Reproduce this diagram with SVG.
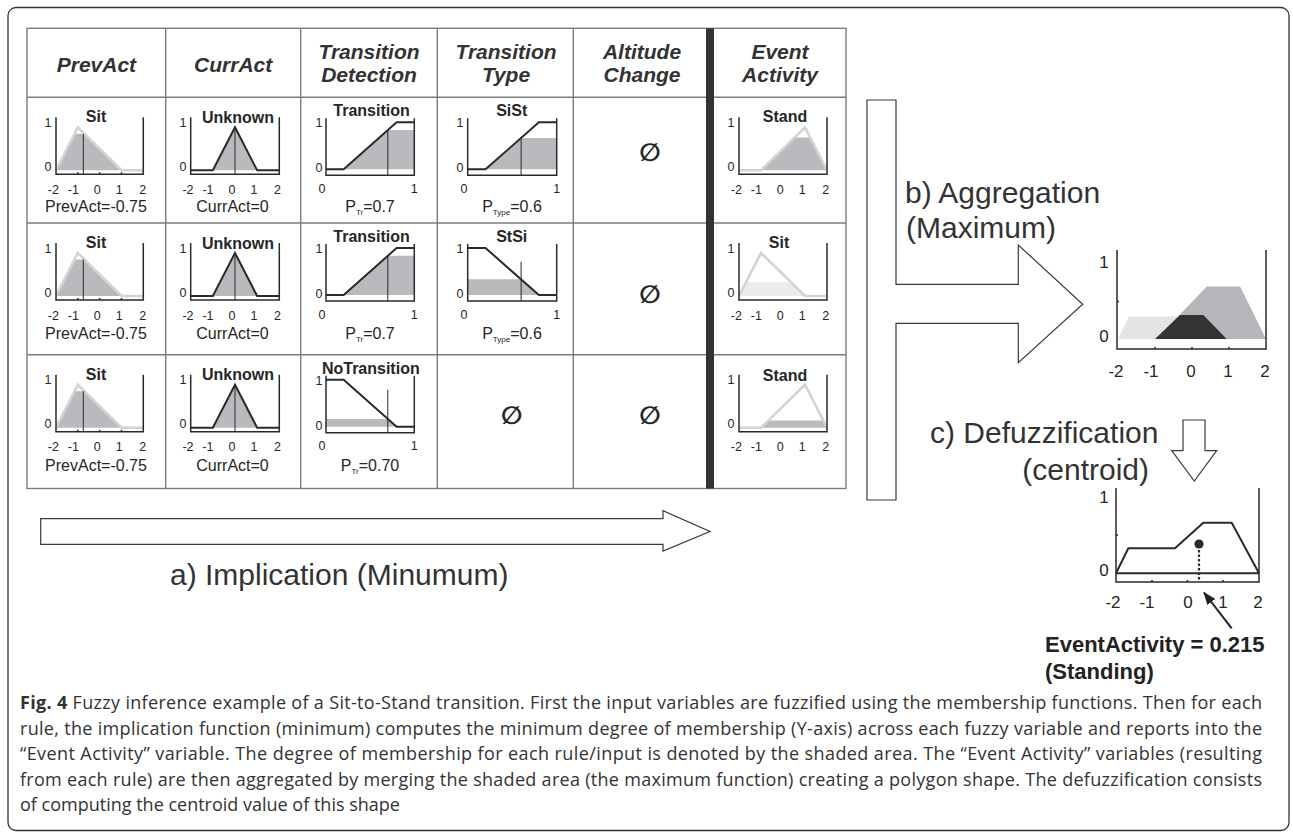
<svg xmlns="http://www.w3.org/2000/svg" width="1293" height="833" viewBox="0 0 1293 833">
<style>
.grid{stroke:#7d7d7d;stroke-width:1.4;fill:none}
.ax{stroke:#2a2a2a;stroke-width:1.5;fill:none}
.mf{stroke:#2a2a2a;stroke-width:2;fill:none;stroke-linejoin:miter}
.mfl{stroke:#d4d4d4;stroke-width:2.6;fill:none}
.sh{fill:#b9babd}
.shl{fill:#ebebeb}
.vl{stroke:#2a2a2a;stroke-width:1}
.blk{fill:#fff;stroke:#3a3a3a;stroke-width:1.2}
text{font-family:"Liberation Sans",Arial,sans-serif;fill:#262626}
.hd{font-size:21px;font-weight:bold;font-style:italic;fill:#333;text-anchor:middle}
.tt{font-size:16px;font-weight:bold;text-anchor:middle}
.tk{font-size:12.5px;text-anchor:middle}
.vb{font-size:16px;text-anchor:middle}
.es{font-family:"DejaVu Sans",sans-serif;font-size:25px;font-weight:bold;text-anchor:middle}
.big{font-size:30px;fill:#333}
.bt{font-size:17px;text-anchor:middle}
.res{font-size:22px;font-weight:bold;fill:#222}
.cap{font-family:"Open Sans","Noto Sans",sans-serif;font-size:18px;fill:#333}
</style>
<defs>
<marker id="ah" markerUnits="userSpaceOnUse" markerWidth="13" markerHeight="10" refX="12" refY="5" orient="auto">
<path d="M0,0 L13,5 L0,10 z" fill="#222"/>
</marker>
</defs>
<rect width="1293" height="833" fill="#fff"/>
<rect x="8" y="7.5" width="1281" height="823" rx="8" fill="none" stroke="#333" stroke-width="1.3"/>

<g id="table-grid">
<rect class="grid" x="27" y="28.3" width="819" height="460.2"/>
<line class="grid" x1="165.7" y1="28.3" x2="165.7" y2="488.5"/>
<line class="grid" x1="300.7" y1="28.3" x2="300.7" y2="488.5"/>
<line class="grid" x1="437.3" y1="28.3" x2="437.3" y2="488.5"/>
<line class="grid" x1="573.3" y1="28.3" x2="573.3" y2="488.5"/>
<line class="grid" x1="27" y1="97.3" x2="846" y2="97.3"/>
<line class="grid" x1="27" y1="223" x2="846" y2="223"/>
<line class="grid" x1="27" y1="354.7" x2="846" y2="354.7"/>
<rect x="706" y="28.3" width="8" height="460.2" fill="#333"/>
</g>

<g id="headers">
<text class="hd" x="96.4" y="71.7">PrevAct</text>
<text class="hd" x="233.2" y="71.7">CurrAct</text>
<text class="hd" x="369" y="59.3">Transition</text>
<text class="hd" x="369" y="81.7">Detection</text>
<text class="hd" x="506" y="59.3">Transition</text>
<text class="hd" x="506" y="81.7">Type</text>
<text class="hd" x="642" y="59.3">Altitude</text>
<text class="hd" x="642" y="81.7">Change</text>
<text class="hd" x="780" y="59.3">Event</text>
<text class="hd" x="780" y="81.7">Activity</text>
</g>

<!-- Row 1 -->
<g id="r1-prevact" transform="translate(0,97.3)">
<polygon class="sh" points="56,73 74.5,36.5 84.4,36.5 121.5,73"/>
<polyline class="mfl" points="56,73 77.8,30 121.5,73 143.3,73"/>
<line class="vl" x1="83.3" y1="36.5" x2="83.3" y2="77"/>
<path class="ax" d="M56,20 V77 H143.3 V20 M77.8,77 v-2 M99.65,77 v-2 M121.5,77 v-2"/>
<text class="tt" x="96" y="25">Sit</text>
<text class="tk" x="48" y="29.5">1</text><text class="tk" x="48" y="73.5">0</text>
<text class="tk" x="53.3" y="96.5">-2</text><text class="tk" x="73.3" y="96.5">-1</text><text class="tk" x="97.3" y="96.5">0</text><text class="tk" x="119.3" y="96.5">1</text><text class="tk" x="142.7" y="96.5">2</text>
<text class="vb" x="96" y="115">PrevAct=-0.75</text>
</g>
<g id="r1-curract" transform="translate(0,97.3)">
<polygon class="sh" points="212.85,73 235,30 257.15,73"/>
<line class="vl" x1="235" y1="30" x2="235" y2="77"/>
<polyline class="mf" points="190.7,73 212.85,73 235,30 257.15,73 279.3,73"/>
<path class="ax" d="M190.7,20 V77 H279.3 V20"/>
<text class="tt" x="238" y="25.5">Unknown</text>
<text class="tk" x="183" y="29.5">1</text><text class="tk" x="183" y="73.5">0</text>
<text class="tk" x="188" y="96.5">-2</text><text class="tk" x="208" y="96.5">-1</text><text class="tk" x="232" y="96.5">0</text><text class="tk" x="254" y="96.5">1</text><text class="tk" x="277.4" y="96.5">2</text>
<text class="vb" x="232.5" y="115">CurrAct=0</text>
</g>
<g id="r1-transdet" transform="translate(0,97.3)">
<polygon class="sh" points="343.66,72 387.8,32.8 414.3,32.8 414.3,72"/>
<line class="vl" x1="387.8" y1="32.8" x2="387.8" y2="78"/>
<polyline class="mf" points="326,72 343.66,72 396.64,25 414.3,25"/>
<path class="ax" d="M326,21 V78 H414.3 V21"/>
<text class="tt" x="371.5" y="18.5">Transition</text>
<text class="tk" x="319" y="30">1</text><text class="tk" x="319" y="75">0</text>
<text class="tk" x="322" y="95.5">0</text><text class="tk" x="414.3" y="95.5">1</text>
<text class="vb" x="370" y="115">P<tspan font-size="8" dy="3">Tr</tspan><tspan dy="-3">=0.7</tspan></text>
</g>
<g id="r1-transtype" transform="translate(0,97.3)">
<polygon class="sh" points="485.5,72 521.1,40.7 556.7,40.7 556.7,72"/>
<line class="vl" x1="521.1" y1="40" x2="521.1" y2="78"/>
<polyline class="mf" points="467.7,72 485.5,72 538.9,25 556.7,25"/>
<path class="ax" d="M467.7,21 V78 H556.7 V21"/>
<text class="tt" x="511.7" y="18.5">SiSt</text>
<text class="tk" x="460" y="30">1</text><text class="tk" x="460" y="75">0</text>
<text class="tk" x="464" y="95.5">0</text><text class="tk" x="556.7" y="95.5">1</text>
<text class="vb" x="512" y="115">P<tspan font-size="8" dy="3">Type</tspan><tspan dy="-3">=0.6</tspan></text>
</g>
<g id="r1-altitude">
<text class="es" x="650" y="161">∅</text>
</g>
<g id="r1-event" transform="translate(0,97.3)">
<polygon class="sh" points="761,73 794.4,40.3 810.3,40.3 827,73"/>
<polyline class="mfl" points="739,73 761,73 805,30 827,73"/>
<path class="ax" d="M739,20 V77 H827 V20"/>
<text class="tt" x="785" y="25">Stand</text>
<text class="tk" x="731" y="29.5">1</text><text class="tk" x="731" y="73.5">0</text>
<text class="tk" x="736.3" y="96.5">-2</text><text class="tk" x="756.3" y="96.5">-1</text><text class="tk" x="780.3" y="96.5">0</text><text class="tk" x="802.3" y="96.5">1</text><text class="tk" x="825.7" y="96.5">2</text>
</g>

<!-- Row 2 -->
<g id="r2-prevact" transform="translate(0,223)">
<polygon class="sh" points="56,73 74.5,36.5 84.4,36.5 121.5,73"/>
<polyline class="mfl" points="56,73 77.8,30 121.5,73 143.3,73"/>
<line class="vl" x1="83.3" y1="36.5" x2="83.3" y2="77"/>
<path class="ax" d="M56,20 V77 H143.3 V20 M77.8,77 v-2 M99.65,77 v-2 M121.5,77 v-2"/>
<text class="tt" x="96" y="25">Sit</text>
<text class="tk" x="48" y="29.5">1</text><text class="tk" x="48" y="73.5">0</text>
<text class="tk" x="53.3" y="96.5">-2</text><text class="tk" x="73.3" y="96.5">-1</text><text class="tk" x="97.3" y="96.5">0</text><text class="tk" x="119.3" y="96.5">1</text><text class="tk" x="142.7" y="96.5">2</text>
<text class="vb" x="96" y="115.5">PrevAct=-0.75</text>
</g>
<g id="r2-curract" transform="translate(0,223)">
<polygon class="sh" points="212.85,73 235,30 257.15,73"/>
<line class="vl" x1="235" y1="30" x2="235" y2="77"/>
<polyline class="mf" points="190.7,73 212.85,73 235,30 257.15,73 279.3,73"/>
<path class="ax" d="M190.7,20 V77 H279.3 V20"/>
<text class="tt" x="238" y="25.5">Unknown</text>
<text class="tk" x="183" y="29.5">1</text><text class="tk" x="183" y="73.5">0</text>
<text class="tk" x="188" y="96.5">-2</text><text class="tk" x="208" y="96.5">-1</text><text class="tk" x="232" y="96.5">0</text><text class="tk" x="254" y="96.5">1</text><text class="tk" x="277.4" y="96.5">2</text>
<text class="vb" x="232.5" y="115.5">CurrAct=0</text>
</g>
<g id="r2-transdet" transform="translate(0,223)">
<polygon class="sh" points="343.66,72 387.8,32.8 414.3,32.8 414.3,72"/>
<line class="vl" x1="387.8" y1="32.8" x2="387.8" y2="78"/>
<polyline class="mf" points="326,72 343.66,72 396.64,25 414.3,25"/>
<path class="ax" d="M326,21 V78 H414.3 V21"/>
<text class="tt" x="371.5" y="18.5">Transition</text>
<text class="tk" x="319" y="30">1</text><text class="tk" x="319" y="75">0</text>
<text class="tk" x="322" y="95.5">0</text><text class="tk" x="414.3" y="95.5">1</text>
<text class="vb" x="370" y="115.5">P<tspan font-size="8" dy="3">Tr</tspan><tspan dy="-3">=0.7</tspan></text>
</g>
<g id="r2-transtype" transform="translate(0,223)">
<polygon class="sh" points="467.7,72 467.7,56.35 521.1,56.35 538.9,72"/>
<line class="vl" x1="521.1" y1="38.7" x2="521.1" y2="78"/>
<polyline class="mf" points="467.7,25 485.5,25 538.9,72 556.7,72"/>
<path class="ax" d="M467.7,21 V78 H556.7 V21"/>
<text class="tt" x="511.7" y="18.5">StSi</text>
<text class="tk" x="460" y="30">1</text><text class="tk" x="460" y="75">0</text>
<text class="tk" x="464" y="95.5">0</text><text class="tk" x="556.7" y="95.5">1</text>
<text class="vb" x="512" y="115.5">P<tspan font-size="8" dy="3">Type</tspan><tspan dy="-3">=0.6</tspan></text>
</g>
<g id="r2-altitude">
<text class="es" x="650" y="303">∅</text>
</g>
<g id="r2-event" transform="translate(0,223)">
<polygon class="shl" points="739,73 746,59.2 790.9,59.2 805,73"/>
<polyline class="mfl" points="739,73 761,30 805,73 827,73"/>
<path class="ax" d="M739,20 V77 H827 V20"/>
<text class="tt" x="779" y="25">Sit</text>
<text class="tk" x="731" y="29.5">1</text><text class="tk" x="731" y="73.5">0</text>
<text class="tk" x="736.3" y="96.5">-2</text><text class="tk" x="756.3" y="96.5">-1</text><text class="tk" x="780.3" y="96.5">0</text><text class="tk" x="802.3" y="96.5">1</text><text class="tk" x="825.7" y="96.5">2</text>
</g>

<!-- Row 3 -->
<g id="r3-prevact" transform="translate(0,354.7)">
<polygon class="sh" points="56,73 74.5,36.5 84.4,36.5 121.5,73"/>
<polyline class="mfl" points="56,73 77.8,30 121.5,73 143.3,73"/>
<line class="vl" x1="83.3" y1="36.5" x2="83.3" y2="77"/>
<path class="ax" d="M56,20 V77 H143.3 V20 M77.8,77 v-2 M99.65,77 v-2 M121.5,77 v-2"/>
<text class="tt" x="96" y="25.5">Sit</text>
<text class="tk" x="48" y="29.5">1</text><text class="tk" x="48" y="73.5">0</text>
<text class="tk" x="53.3" y="96.5">-2</text><text class="tk" x="73.3" y="96.5">-1</text><text class="tk" x="97.3" y="96.5">0</text><text class="tk" x="119.3" y="96.5">1</text><text class="tk" x="142.7" y="96.5">2</text>
<text class="vb" x="96" y="116">PrevAct=-0.75</text>
</g>
<g id="r3-curract" transform="translate(0,354.7)">
<polygon class="sh" points="212.85,73 235,30 257.15,73"/>
<line class="vl" x1="235" y1="30" x2="235" y2="77"/>
<polyline class="mf" points="190.7,73 212.85,73 235,30 257.15,73 279.3,73"/>
<path class="ax" d="M190.7,20 V77 H279.3 V20"/>
<text class="tt" x="238" y="25.5">Unknown</text>
<text class="tk" x="183" y="29.5">1</text><text class="tk" x="183" y="73.5">0</text>
<text class="tk" x="188" y="96.5">-2</text><text class="tk" x="208" y="96.5">-1</text><text class="tk" x="232" y="96.5">0</text><text class="tk" x="254" y="96.5">1</text><text class="tk" x="277.4" y="96.5">2</text>
<text class="vb" x="232.5" y="116">CurrAct=0</text>
</g>
<g id="r3-transdet" transform="translate(0,354.7)">
<polygon class="sh" points="326,72 326,64.2 387.8,64.2 396.64,72"/>
<line class="vl" x1="387.8" y1="35" x2="387.8" y2="78"/>
<polyline class="mf" points="326,25 343.66,25 396.64,72 414.3,72"/>
<path class="ax" d="M326,21 V78 H414.3 V21"/>
<text class="tt" x="370.8" y="19">NoTransition</text>
<text class="tk" x="319" y="30">1</text><text class="tk" x="319" y="75">0</text>
<text class="tk" x="322" y="95.5">0</text><text class="tk" x="414.3" y="95.5">1</text>
<text class="vb" x="370" y="116">P<tspan font-size="8" dy="3">Tr</tspan><tspan dy="-3">=0.70</tspan></text>
</g>
<g id="r3-transtype">
<text class="es" x="511.7" y="424">∅</text>
</g>
<g id="r3-altitude">
<text class="es" x="650" y="424">∅</text>
</g>
<g id="r3-event" transform="translate(0,354.7)">
<polygon class="sh" points="761,73 768.5,65.7 823.3,65.7 827,73"/>
<polyline class="mfl" points="739,73 761,73 805,30 827,73"/>
<path class="ax" d="M739,20 V77 H827 V20"/>
<text class="tt" x="785" y="26">Stand</text>
<text class="tk" x="731" y="29.5">1</text><text class="tk" x="731" y="73.5">0</text>
<text class="tk" x="736.3" y="96.5">-2</text><text class="tk" x="756.3" y="96.5">-1</text><text class="tk" x="780.3" y="96.5">0</text><text class="tk" x="802.3" y="96.5">1</text><text class="tk" x="825.7" y="96.5">2</text>
</g>

<g id="aggregation-chart">
<polygon fill="#e4e4e4" points="1118,339 1129.1,316.5 1206.8,316.5 1229,339"/>
<polygon fill="#b5b6b9" points="1156.5,339 1206.8,286.5 1240.1,286.5 1266,339"/>
<polygon fill="#333" points="1155,339 1180,315 1203.3,315 1226.7,339"/>
<path class="ax" d="M1117,250 V349 H1266 V250 M1117,301.5 h2 M1155,349 v-2 M1192,349 v-2 M1229,349 v-2"/>
<text class="bt" x="1104" y="268">1</text><text class="bt" x="1104" y="342">0</text>
<text class="bt" x="1116" y="377">-2</text><text class="bt" x="1151" y="377">-1</text><text class="bt" x="1191" y="377">0</text><text class="bt" x="1228" y="377">1</text><text class="bt" x="1265" y="377">2</text>
</g>

<g id="defuzz-chart">
<polyline class="mf" points="1116,573.3 1128.3,548.3 1175,548.3 1203.3,522.7 1231.7,522.7 1259,573.3"/>
<line class="mf" x1="1116" y1="573.3" x2="1259" y2="573.3"/>
<path class="ax" d="M1116,488 V582 H1259 V488 M1116,535 h2 M1152,582 v-2 M1187.5,582 v-2 M1223,582 v-2"/>
<circle cx="1199" cy="544" r="4.6" fill="#2a2a2a"/>
<line x1="1199" y1="550" x2="1199" y2="581" stroke="#2a2a2a" stroke-width="2.2" stroke-dasharray="2.5,2"/>
<text class="bt" x="1104" y="503">1</text><text class="bt" x="1104" y="576">0</text>
<text class="bt" x="1113" y="608">-2</text><text class="bt" x="1147" y="608">-1</text><text class="bt" x="1188" y="608">0</text><text class="bt" x="1223" y="608">1</text><text class="bt" x="1258" y="608">2</text>
</g>

<g id="result-label">
<text class="res" x="1045" y="652">EventActivity = 0.215</text>
<text class="res" x="1045" y="679">(Standing)</text>
</g>

<g id="connectors">
<polygon class="blk" points="40.7,518.6 663,518.6 663,510.7 710,531.5 663,551 663,544.4 40.7,544.4"/>
<polygon class="blk" points="867,100 896,100 896,284.3 1018.3,284.3 1018.3,245 1082.7,304.3 1018.3,362.7 1018.3,323.3 896,323.3 896,500 867,500"/>
<polygon class="blk" points="1183,420 1205,420 1205,450.7 1216.7,450.7 1194.3,481 1171.7,450.7 1183,450.7"/>
<line x1="1231.7" y1="628.3" x2="1204" y2="592.5" stroke="#222" stroke-width="2" marker-end="url(#ah)"/>
</g>

<g id="stage-labels">
<text class="big" x="170" y="585">a) Implication (Minumum)</text>
<text class="big" x="905" y="203">b) Aggregation</text>
<text class="big" x="906" y="238">(Maximum)</text>
<text class="big" x="930" y="443" font-size="29">c) Defuzzification</text>
<text class="big" x="1149" y="480" font-size="29" text-anchor="end">(centroid)</text>
</g>

<g id="caption">
<text class="cap" x="20" y="709" textLength="1242" lengthAdjust="spacing"><tspan font-weight="bold">Fig. 4</tspan> Fuzzy inference example of a Sit-to-Stand transition. First the input variables are fuzzified using the membership functions. Then for each</text>
<text class="cap" x="20" y="735" textLength="1242" lengthAdjust="spacing">rule, the implication function (minimum) computes the minimum degree of membership (Y-axis) across each fuzzy variable and reports into the</text>
<text class="cap" x="20" y="760" textLength="1242" lengthAdjust="spacing">“Event Activity” variable. The degree of membership for each rule/input is denoted by the shaded area. The “Event Activity” variables (resulting</text>
<text class="cap" x="20" y="786" textLength="1242" lengthAdjust="spacing">from each rule) are then aggregated by merging the shaded area (the maximum function) creating a polygon shape. The defuzzification consists</text>
<text class="cap" x="20" y="811">of computing the centroid value of this shape</text>
</g>
</svg>
